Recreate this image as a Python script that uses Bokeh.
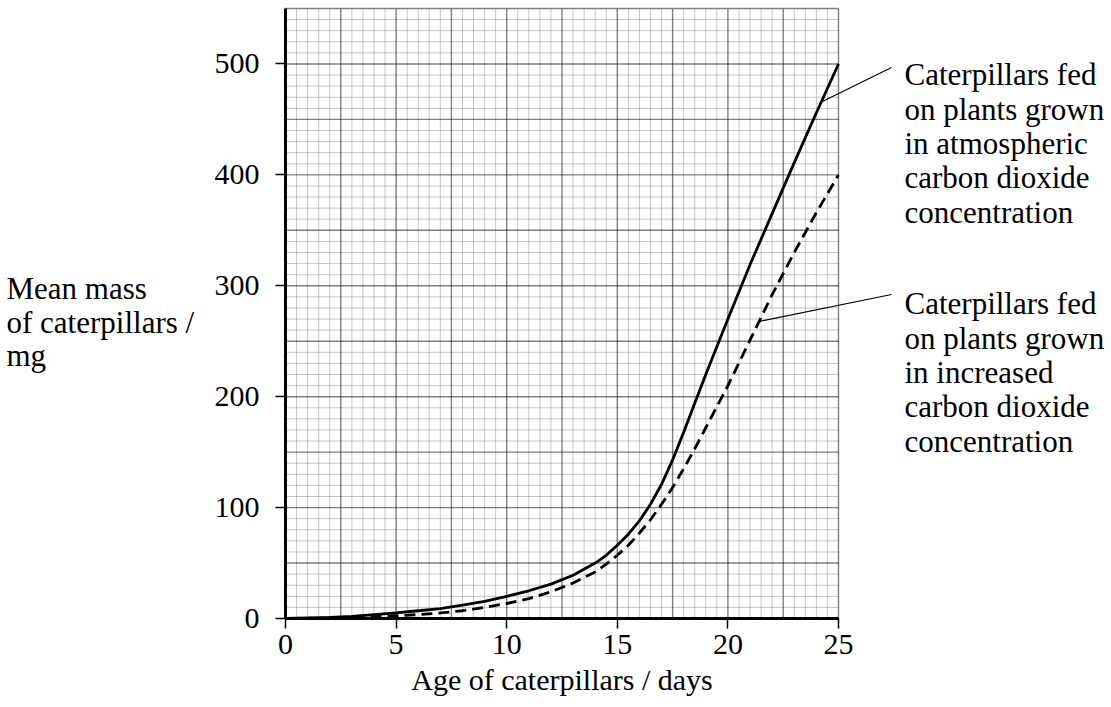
from bokeh.plotting import figure
from bokeh.models import Range1d
from bokeh.core.properties import value
from bokeh.embed import file_html
from bokeh.resources import INLINE

# ---- data ----
days = [0, 1, 2, 3, 4, 5, 6, 7, 8, 9, 10, 11, 12, 13, 14, 14.5, 15, 15.5, 16,
        16.5, 17, 17.5, 18, 18.5, 19, 20, 21, 22, 23, 24, 25]
mass_atmospheric = [0, 0.5, 1, 2, 3.5, 5, 7, 9, 12, 15.5, 20, 25, 31, 39, 50, 57, 66,
                    76, 88, 103, 121, 143, 168, 194, 220, 270, 319, 365, 411, 456, 500]
mass_increased = [0, 0.2, 0.5, 1, 1.5, 2.5, 3.5, 5, 7, 10, 13.5, 18, 24, 32, 42, 49, 57,
                  66, 77, 89, 103, 118, 135, 153, 172, 210, 251, 292, 330, 366, 400]
x_ticks = [0, 5, 10, 15, 20, 25]
y_ticks = [0, 100, 200, 300, 400, 500]
x_max = 25
y_max = 550
x_label = "Age of caterpillars / days"
y_label_lines = ["Mean mass", "of caterpillars /", "mg"]
note_atmospheric = ["Caterpillars fed", "on plants grown", "in atmospheric",
                    "carbon dioxide", "concentration"]
note_increased = ["Caterpillars fed", "on plants grown", "in increased",
                  "carbon dioxide", "concentration"]

FONT = "Liberation Serif"
GLYPH_FONT = "'Liberation Serif', 'Times New Roman', serif"
W, H = 1111, 703

# pixel mapping of the reference (screen px): x=0 at 285, x=25 at 838; y=0 at 618, y=550 at 8
PX_X = (838 - 285) / 25.0
PX_Y = (618 - 8) / 550.0


def dx(px):
    return (px - 285) / PX_X


def dy(py):
    return (618 - py) / PX_Y


p = figure(width=W, height=H, output_backend="svg", toolbar_location=None,
           x_range=Range1d(dx(0), dx(W)), y_range=Range1d(dy(H), dy(0)),
           min_border=0)
p.outline_line_color = None
p.background_fill_color = "white"
p.border_fill_color = "white"
p.xgrid.grid_line_color = None
p.ygrid.grid_line_color = None

# graph-paper grid (fine every 0.5 day / 10 mg, bold every 2.5 days / 50 mg)
minor_x = [i * 0.5 for i in range(0, 51) if i % 5 != 0]
major_x = [i * 2.5 for i in range(0, 11)]
minor_y = [i * 10 for i in range(0, 56) if i % 5 != 0]
major_y = [i * 50 for i in range(0, 12)]
p.segment(x0=minor_x, y0=[0] * len(minor_x), x1=minor_x, y1=[y_max] * len(minor_x),
          line_color="#8c8c8c", line_width=1, line_dash="1 1")
p.segment(x0=[0] * len(minor_y), y0=minor_y, x1=[x_max] * len(minor_y), y1=minor_y,
          line_color="#8c8c8c", line_width=1, line_dash="1 1")
p.segment(x0=major_x, y0=[0] * len(major_x), x1=major_x, y1=[y_max] * len(major_x),
          line_color="black", line_width=1.4, line_dash="1 1")
p.segment(x0=[0] * len(major_y), y0=major_y, x1=[x_max] * len(major_y), y1=major_y,
          line_color="black", line_width=1.4, line_dash="1 1")

# axes at fixed positions
p.xaxis.fixed_location = 0
p.yaxis.fixed_location = 0
p.xaxis.bounds = (0, x_max)
p.yaxis.bounds = (0, y_max)
p.xaxis.ticker = x_ticks
p.yaxis.ticker = y_ticks
for ax in (p.xaxis, p.yaxis):
    ax.axis_line_width = 3
    ax.axis_line_color = "black"
    ax.major_tick_line_width = 1.5
    ax.major_tick_line_color = "black"
    ax.major_tick_in = 0
    ax.major_tick_out = 10
    ax.minor_tick_line_color = None
    ax.major_label_text_font = FONT
    ax.major_label_text_font_size = "30px"
    ax.major_label_text_color = "black"
p.xaxis.major_label_standoff = 6
p.yaxis.major_label_standoff = 16
p.xaxis.axis_label = x_label
p.xaxis.axis_label_text_font = FONT
p.xaxis.axis_label_text_font_size = "30px"
p.xaxis.axis_label_text_font_style = "normal"
p.xaxis.axis_label_text_color = "black"
p.xaxis.axis_label_standoff = 6

# curves
p.line(days, mass_atmospheric, line_color="black", line_width=2.8)
p.line(days, mass_increased, line_color="black", line_width=2.8, line_dash="11 6")

# leader lines
p.segment(x0=[24.25, 21.45], y0=[466, 268], x1=[dx(891), dx(891)], y1=[dy(67), dy(294)],
          line_color="black", line_width=1.2)

# annotation texts
note_x = [dx(904)] * 10
note_y = [dy(74.3 + 34.3 * i) for i in range(5)] + [dy(303.3 + 34.3 * i) for i in range(5)]
p.text(x=note_x, y=note_y, text=note_atmospheric + note_increased,
       text_font=value(GLYPH_FONT), text_font_size="31px", text_color="black",
       text_baseline="alphabetic", text_align="left")

ylab_x = [dx(6)] * 3
ylab_y = [dy(288.3 + 33.5 * i) for i in range(3)]
p.text(x=ylab_x, y=ylab_y, text=y_label_lines,
       text_font=value(GLYPH_FONT), text_font_size="31px", text_color="black",
       text_baseline="alphabetic", text_align="left")

open("out.html", "w").write(file_html(p, INLINE))
